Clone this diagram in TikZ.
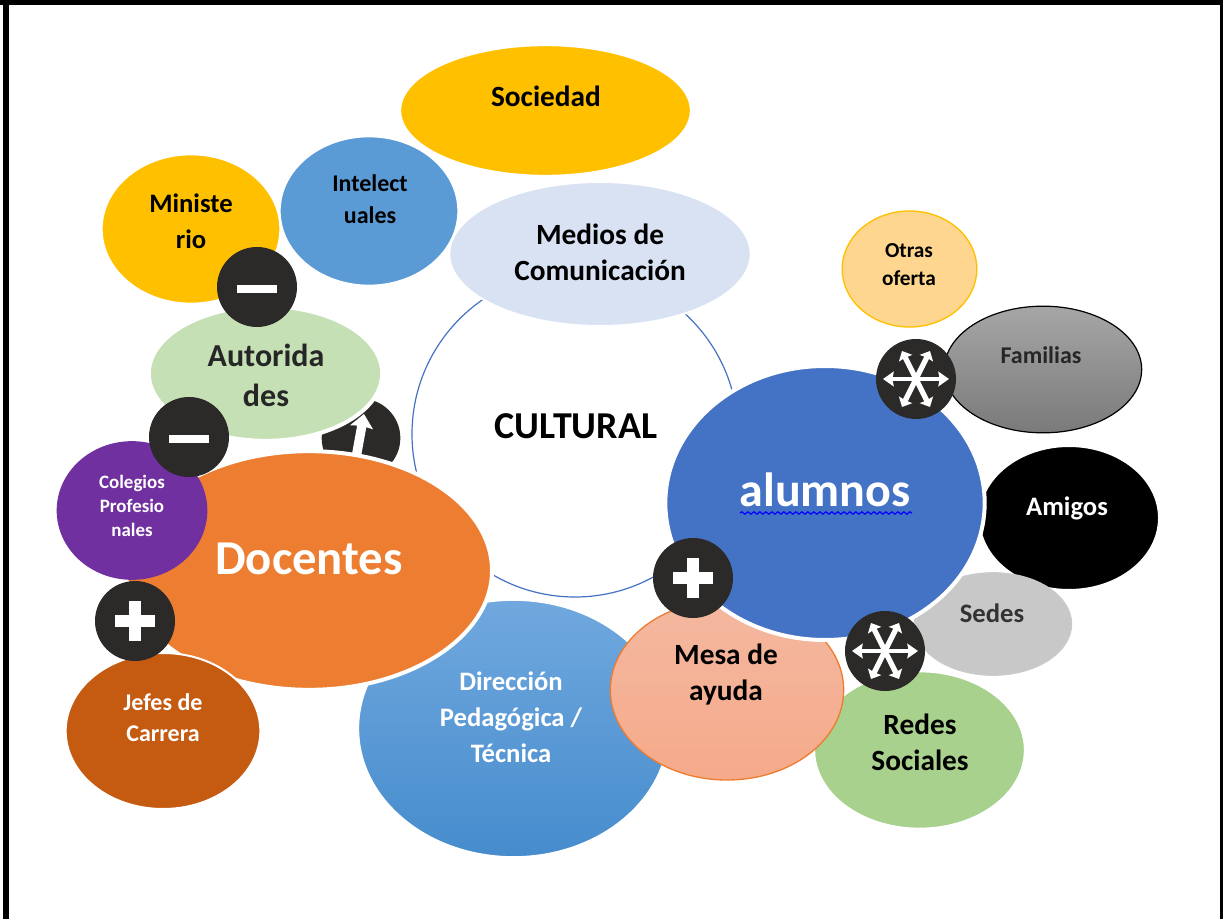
\documentclass[tikz,border=0pt]{standalone}
\usepackage{fontspec}
\setmainfont{Carlito}
\usetikzlibrary{shapes.geometric,arrows.meta,decorations.pathmorphing}
\definecolor{cAzul}{HTML}{4472C4}
\definecolor{cCeleste}{HTML}{5B9BD5}
\definecolor{cOro}{HTML}{FFC000}
\definecolor{cNaranja}{HTML}{ED7D31}
\definecolor{cOscuro}{HTML}{2B2A29}
\definecolor{cMedios}{HTML}{D9E2F3}
\definecolor{cOtras}{HTML}{FFD68F}
\definecolor{cFamT}{HTML}{A6A6A6}
\definecolor{cFamB}{HTML}{7A7A7A}
\definecolor{cSedes}{HTML}{C8C8C8}
\definecolor{cRedes}{HTML}{A9D18E}
\definecolor{cDirT}{HTML}{70A8DE}
\definecolor{cDirB}{HTML}{468CCD}
\definecolor{cMesaT}{HTML}{F4B8A0}
\definecolor{cMesaB}{HTML}{F5AA8A}
\definecolor{cAut}{HTML}{C5E0B4}
\definecolor{cCol}{HTML}{7030A0}
\definecolor{cJef}{HTML}{C55A11}
\tikzset{
  x=0.75pt,y=-0.75pt,
  blob/.style={ellipse,inner sep=0pt,outer sep=0pt,draw=white,line width=1.5pt},
  wide/.style={line width=3pt},
  badge/.style={circle,inner sep=0pt,minimum size=60pt,fill=cOscuro},
  arrH/.style={white,line width=2.8pt,{Stealth[length=8pt,width=11pt,inset=1pt]}-{Stealth[length=8pt,width=11pt,inset=1pt]}},
  arrD/.style={white,line width=4pt,{Stealth[length=6pt,width=11pt,inset=0.5pt]}-{Stealth[length=6pt,width=11pt,inset=0.5pt]}},
  lab/.style={align=center,inner sep=0pt},
}
\newcommand{\lb}[2]{\bfseries\fontsize{#1}{#2}\selectfont}
\newcommand{\minusmark}[1]{\fill[white] ([shift={(-20,-2)}]#1.center) rectangle ([shift={(20,6)}]#1.center);}
\newcommand{\plusmark}[1]{\fill[white] ([shift={(-20,-6)}]#1.center) rectangle ([shift={(20,6)}]#1.center);
  \fill[white] ([shift={(-6,-20)}]#1.center) rectangle ([shift={(6,20)}]#1.center);}
\newcommand{\starmark}[1]{%
  \draw[arrD] ([shift={(-14,-28)}]#1.center) -- ([shift={(14,28)}]#1.center);
  \draw[arrD] ([shift={(14,-28)}]#1.center) -- ([shift={(-14,28)}]#1.center);
  \draw[arrH] ([shift={(-33,0)}]#1.center) -- ([shift={(33,0)}]#1.center);}
\begin{document}
\begin{tikzpicture}
\useasboundingbox (0,0) rectangle (1223,919);
\fill[white] (0,0) rectangle (1223,919);
% frame
\fill[black] (0,0) rectangle (1223,5);
\fill[black] (3,0) rectangle (9,919);
\fill[black] (1220,0) rectangle (1223,919);
% back shapes
\node[blob,fill=cOro,minimum width=218pt,minimum height=98pt] (soc) at (545.5,110.5) {};
\node[blob,fill=cCeleste,minimum width=134pt,minimum height=112pt] (int) at (369,211) {};
\node[blob,fill=cOro,minimum width=134pt,minimum height=112pt] (min) at (191,229) {};
\node[circle,draw=cAzul,line width=0.9pt,fill=white,inner sep=0pt,minimum size=244.5pt] (cul) at (575,434) {};
\node[blob,fill=cMedios,minimum width=226pt,minimum height=108pt] (med) at (600,254) {};
\node[blob,draw=cOro,fill=cOtras,line width=1pt,minimum width=101pt,minimum height=87pt] (otr) at (909.5,269) {};
\node[blob,draw=black,line width=0.9pt,top color=cFamT,bottom color=cFamB,minimum width=148pt,minimum height=95pt] (fam) at (1043,369.5) {};
\node[blob,fill=black,minimum width=135pt,minimum height=108pt] (ami) at (1069,518) {};
\node[blob,fill=cSedes,draw=white!80!black,line width=0.8pt,minimum width=118pt,minimum height=77pt] (sed) at (993,624) {};
\node[blob,fill=cRedes,minimum width=158pt,minimum height=118pt] (red) at (919.5,750) {};
\node[blob,top color=cDirT,bottom color=cDirB,minimum width=233pt,minimum height=193pt] (dir) at (513.5,728.5) {};
\node[blob,draw=cNaranja,line width=1pt,top color=cMesaT,bottom color=cMesaB,minimum width=175pt,minimum height=135pt] (mes) at (727,690) {};
\node[blob,fill=cAzul,wide,minimum width=239.5pt,minimum height=205.5pt] (alu) at (825,503) {};
% arrow badge, mostly hidden
\node[badge,minimum size=59pt] (up) at (361,438) {};
\draw[white,line width=7pt,-{Stealth[length=10pt,width=17pt,inset=1pt]}] ([shift={(-5,20)}]up.center) -- ([shift={(3,-24)}]up.center);
\node[blob,fill=cAut,wide,minimum width=175pt,minimum height=101pt] (aut) at (265.5,373.5) {};
\node[blob,fill=cNaranja,wide,minimum width=274.5pt,minimum height=179pt] (doc) at (309,570.5) {};
\node[blob,fill=cCol,draw=none,minimum width=113pt,minimum height=104pt] (col) at (132,510.5) {};
\node[blob,fill=cJef,minimum width=146pt,minimum height=117pt] (jef) at (163,731) {};
% badges
\node[badge] (m1) at (257,287) {};
\node[badge] (m2) at (189,437) {};
\node[badge] (p1) at (135,621) {};
\node[badge] (p2) at (693,578) {};
\node[badge] (s1) at (916,379) {};
\node[badge] (s2) at (885,651) {};
\minusmark{m1}
\minusmark{m2}
\plusmark{p1}
\plusmark{p2}
\starmark{s1}
\starmark{s2}
% texts
\node[lab,font=\lb{22}{26}] (tsoc) at (546,96) {Sociedad};
\node[lab,font=\lb{18}{24}] (tint) at (370,199) {Intelect\\uales};
\node[lab,font=\lb{20}{27}] (tmin) at (191,221) {Ministe\\rio};
\node[lab,font=\lb{22}{27}] (tmed) at (600,252) {Medios de\\Comunicación};
\node[lab,font=\lb{28.5}{30}] (tcul) at (576,426) {CULTURAL};
\node[lab,font=\lb{16}{21}] (totr) at (909,265) {Otras\\oferta};
\node[lab,text=black!85,font=\lb{18}{20}] (tfam) at (1041,355) {Familias};
\node[lab,text=white,font=\lb{20}{20}] (tami) at (1067,508) {Amigos};
\node[lab,text=black!80,font=\lb{20}{20}] (tsed) at (992,613) {Sedes};
\node[lab,font=\lb{22}{27}] (tred) at (920,742) {Redes\\Sociales};
\node[lab,font=\lb{22}{27}] (tmes) at (726,675) {Mesa de\\ayuda};
\node[lab,text=white,font=\lb{20}{27}] (tdir) at (511,717) {Dirección\\Pedagógica /\\Técnica};
\node[lab,text=white,font=\lb{36}{40}] (talu) at (825,490) {alumnos};
\draw[blue,line width=0.9pt,decorate,decoration={snake,amplitude=0.9pt,segment length=4.5pt}] ([shift={(-85,23)}]talu.center) -- ([shift={(87,23)}]talu.center);
\node[lab,text=black!85,font=\lb{24}{30}] (taut) at (266,375) {Autorida\\des};
\node[lab,text=white,font=\lb{36.5}{40}] (tdoc) at (309,559) {Docentes};
\node[lab,text=white,font=\lb{14.2}{18}] (tcol) at (132,506) {Colegios\\Profesio\\nales};
\node[lab,text=white,font=\lb{18}{23.3}] (tjef) at (163,718) {Jefes de\\Carrera};
\end{tikzpicture}
\end{document}
